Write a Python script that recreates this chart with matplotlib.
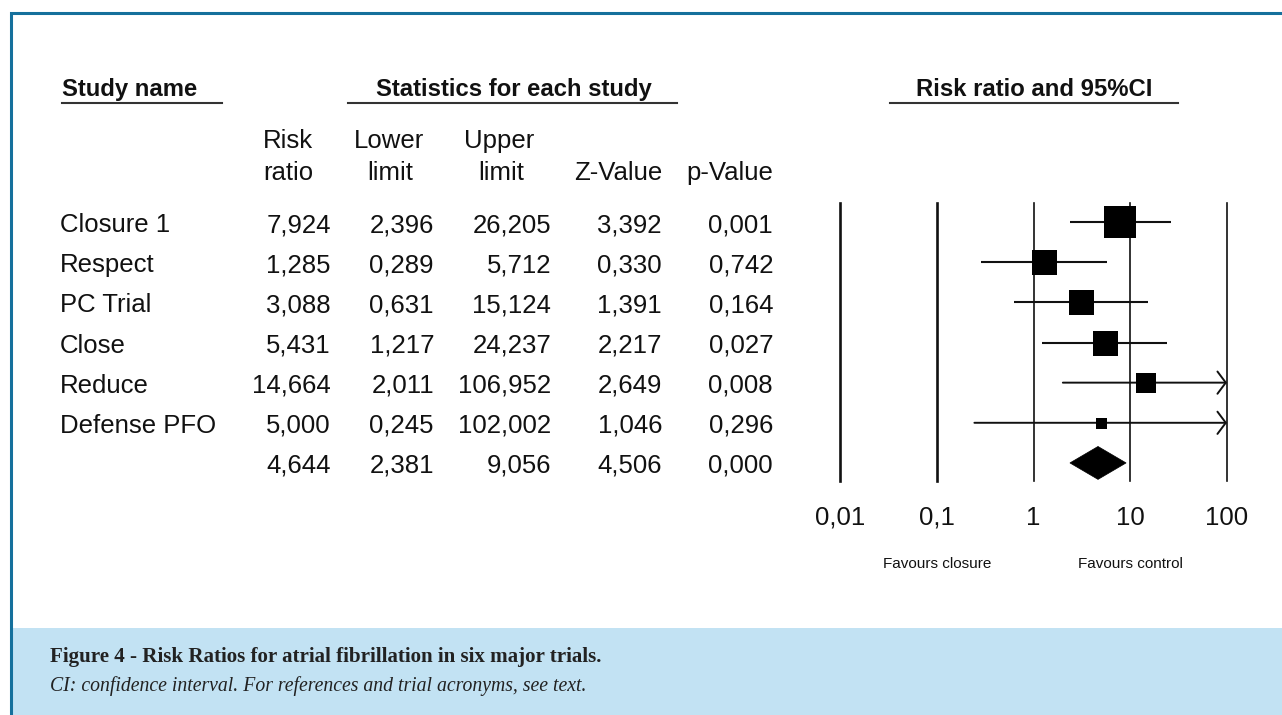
import matplotlib
matplotlib.use("Agg")
import matplotlib.pyplot as plt
from matplotlib import transforms
from matplotlib.patches import Polygon, Rectangle
from matplotlib.lines import Line2D

# ---- data ---------------------------------------------------------------
studies = ["Closure 1", "Respect", "PC Trial", "Close", "Reduce", "Defense PFO"]
risk_ratio = [7.924, 1.285, 3.088, 5.431, 14.664, 5.000]
lower_limit = [2.396, 0.289, 0.631, 1.217, 2.011, 0.245]
upper_limit = [26.205, 5.712, 15.124, 24.237, 106.952, 102.002]
z_value = [3.392, 0.330, 1.391, 2.217, 2.649, 1.046]
p_value = [0.001, 0.742, 0.164, 0.027, 0.008, 0.296]

pooled_rr = 4.644
pooled_lower = 2.381
pooled_upper = 9.056
pooled_z = 4.506
pooled_p = 0.000

axis_ticks = [0.01, 0.1, 1, 10, 100]
tick_labels = ["0,01", "0,1", "1", "10", "100"]

# ---- styling ------------------------------------------------------------
box_px = [32, 25, 25, 25, 20, 11]          # square side for each study (px)
SANS = ["Liberation Sans", "DejaVu Sans"]
SERIF = ["Liberation Serif", "DejaVu Serif"]
INK = "#111111"
BORDER = "#15709c"
CAPTION_BG = "#c2e2f3"

W, H = 1282, 715
fig = plt.figure(figsize=(W / 100, H / 100), dpi=100)
fig.patch.set_facecolor("white")

# page layer in pixel coordinates
page = fig.add_axes([0, 0, 1, 1])
page.set_xlim(0, W)
page.set_ylim(H, 0)
page.axis("off")

# caption panel and frame
page.add_patch(Rectangle((12, 628), W - 12, H - 628, facecolor=CAPTION_BG,
                         edgecolor="none", zorder=0))
page.add_line(Line2D([11, 11, W + 5], [H + 5, 13, 13], color=BORDER, lw=2.2,
                     solid_joinstyle="miter", zorder=2))

# ---- forest plot axes ---------------------------------------------------
x0, x1, ytop, ybot = 840, 1227, 203, 481
ax = fig.add_axes([x0 / W, 1 - ybot / H, (x1 - x0) / W, (ybot - ytop) / H])
ax.set_xscale("log")
ax.set_xlim(axis_ticks[0], axis_ticks[-1])
n_rows = len(studies) + 1
ax.set_ylim(n_rows - 1 + 18 / 40, -19 / 40)
ax.axis("off")
ax.patch.set_alpha(0)

for t, lw in zip(axis_ticks, [1.9, 1.9, 1.2, 1.2, 1.2]):
    ax.axvline(t, color=INK, lw=lw, clip_on=False, zorder=1)

xmax = axis_ticks[-1]
for i, (rr, lo, hi) in enumerate(zip(risk_ratio, lower_limit, upper_limit)):
    if hi > xmax:
        ax.annotate("", xy=(xmax, i), xytext=(lo, i),
                    arrowprops=dict(arrowstyle="->,head_length=0.3,head_width=0.4",
                                    lw=1.4, color=INK, mutation_scale=20,
                                    shrinkA=0, shrinkB=0),
                    annotation_clip=False, zorder=2)
    else:
        ax.plot([lo, hi], [i, i], color=INK, lw=1.5, clip_on=False, zorder=2,
                solid_capstyle="butt")
    ax.plot([rr], [i], marker="s", ms=box_px[i] * 0.72, mew=0, color="black",
            clip_on=False, zorder=3)

pi = len(studies)
ax.add_patch(Polygon([(pooled_lower, pi), (pooled_rr, pi - 0.41),
                      (pooled_upper, pi), (pooled_rr, pi + 0.41)],
                     closed=True, facecolor="black", edgecolor="black",
                     lw=0.5, clip_on=False, zorder=3))

# tick labels and direction notes below the plot
tick_tf = transforms.blended_transform_factory(ax.transData, page.transData)
for t, lab in zip(axis_ticks, tick_labels):
    page.text(t, 525, lab, transform=tick_tf, ha="center", va="baseline",
              fontsize=18.5, family=SANS, color=INK)
page.text(0.1, 568, "Favours closure", transform=tick_tf, ha="center",
          va="baseline", fontsize=11, family=SANS, color=INK)
page.text(10, 568, "Favours control", transform=tick_tf, ha="center",
          va="baseline", fontsize=11, family=SANS, color=INK)

# ---- table --------------------------------------------------------------
def fmt(v):
    return f"{v:.3f}".replace(".", ",")

row_tf = transforms.offset_copy(
    transforms.blended_transform_factory(page.transData, ax.transData),
    fig=fig, x=0, y=-10, units="dots")

col_right = [331, 434, 551, 662, 773]
columns = [risk_ratio + [pooled_rr], lower_limit + [pooled_lower],
           upper_limit + [pooled_upper], z_value + [pooled_z],
           p_value + [pooled_p]]

for i, name in enumerate(studies):
    page.text(60, i, name, transform=row_tf, ha="left", va="baseline",
              fontsize=18.5, family=SANS, color=INK)
for xr, vals in zip(col_right, columns):
    for i, v in enumerate(vals):
        page.text(xr, i, fmt(v), transform=row_tf, ha="right", va="baseline",
                  fontsize=18.5, family=SANS, color=INK)

# column headers
hdr = dict(fontsize=18.5, family=SANS, color=INK, va="baseline")
page.text(288, 148, "Risk", ha="center", **hdr)
page.text(288, 180, "ratio", ha="center", **hdr)
page.text(389, 148, "Lower", ha="center", **hdr)
page.text(390, 180, "limit", ha="center", **hdr)
page.text(499, 148, "Upper", ha="center", **hdr)
page.text(501, 180, "limit", ha="center", **hdr)
page.text(662, 180, "Z-Value", ha="right", **hdr)
page.text(773, 180, "p-Value", ha="right", **hdr)

# section titles with rules
bold = dict(fontsize=17.2, family=SANS, weight="bold", color=INK, va="baseline")
page.text(62, 96, "Study name", ha="left", **bold)
page.text(514, 96, "Statistics for each study", ha="center", **bold)
page.text(1034, 96, "Risk ratio and 95%CI", ha="center", **bold)
for xa, xb in [(62, 222), (348, 677), (890, 1178)]:
    page.add_line(Line2D([xa, xb], [103, 103], color="#333333", lw=1.5))

# ---- caption ------------------------------------------------------------
page.text(50, 662, "Figure 4 - Risk Ratios for atrial fibrillation in six major trials.",
          ha="left", va="baseline", fontsize=15.1, family=SERIF, weight="bold",
          color="#222222")
page.text(50, 691, "CI: confidence interval. For references and trial acronyms, see text.",
          ha="left", va="baseline", fontsize=14.2, family=SERIF, style="italic",
          color="#222222")

fig.savefig("out.png", dpi=100)
